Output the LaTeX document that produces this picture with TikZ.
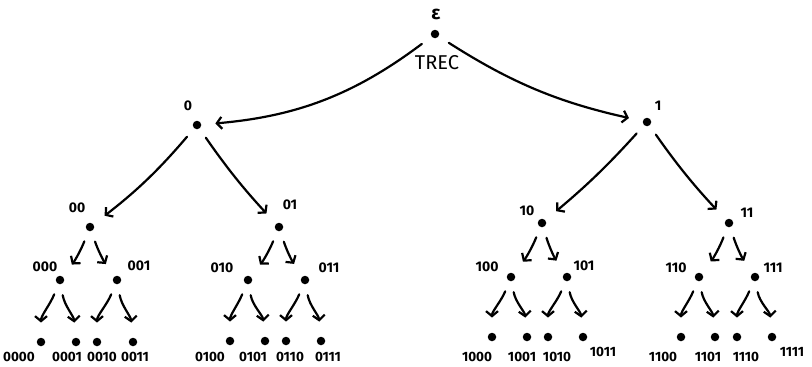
\documentclass[tikz,border=0pt]{standalone}
\usepackage{fontspec}
\setmainfont{Fira Sans}
\usetikzlibrary{arrows.meta}
\begin{document}
\begin{tikzpicture}[x=1pt,y=-1pt,
  dot/.style={circle,fill=black,inner sep=0pt,minimum size=8.5pt},
  lbl/.style={inner sep=0pt,font=\fontsize{14}{14}\selectfont\bfseries},
  leaflbl/.style={inner sep=0pt,font=\fontsize{13.5}{13.5}\selectfont\bfseries},
  edge/.style={line width=2.2pt,line cap=round,
    -{Straight Barb[length=5pt,width=12pt,line width=2.2pt]}},
  etop/.style={edge,shorten <=12pt,shorten >=14pt},
  emid/.style={edge,shorten <=11pt,shorten >=14pt},
  elow/.style={edge,shorten <=11pt,shorten >=15pt},
  eleaf/.style={edge,shorten <=11pt,shorten >=15pt}]
\useasboundingbox (0,0) rectangle (812,367);

% root
\node[dot] (r) at (435,34) {};
\node[inner sep=0pt,font=\fontsize{19}{19}\selectfont\bfseries] (eps) at (436,14) {ε};
\node[inner sep=0pt,font=\fontsize{20}{20}\selectfont] (trec) at (437,63) {TREC};

% level 1
\node[dot] (n0) at (197,125) {};  \node[lbl] (l0) at (188,106) {0};
\node[dot] (n1) at (647,122) {};  \node[lbl] (l1) at (658,106) {1};

% level 2
\node[dot] (n00) at (90,227) {};  \node[lbl] (l00) at (77,208) {00};
\node[dot] (n01) at (279,227) {}; \node[lbl] (l01) at (290,205) {01};
\node[dot] (n10) at (542,223) {}; \node[lbl] (l10) at (527,211) {10};
\node[dot] (n11) at (729,223) {}; \node[lbl] (l11) at (747,213) {11};

% level 3
\node[dot] (n000) at (60,280) {};  \node[lbl] (l000) at (45,267) {000};
\node[dot] (n001) at (117,280) {}; \node[lbl] (l001) at (139,266) {001};
\node[dot] (n010) at (248,280) {}; \node[lbl] (l010) at (222,268) {010};
\node[dot] (n011) at (305,280) {}; \node[lbl] (l011) at (329,268) {011};
\node[dot] (n100) at (511,277) {}; \node[lbl] (l100) at (487,267) {100};
\node[dot] (n101) at (567,277) {}; \node[lbl] (l101) at (584,266) {101};
\node[dot] (n110) at (699,277) {}; \node[lbl] (l110) at (676,268) {110};
\node[dot] (n111) at (755,277) {}; \node[lbl] (l111) at (773,268) {111};

% leaves
\node[dot] (n0000) at (41,342) {};  \node[leaflbl] (l0000) at (19,357) {0000};
\node[dot] (n0001) at (76,342) {};  \node[leaflbl] (l0001) at (67,357) {0001};
\node[dot] (n0010) at (97,342) {};  \node[leaflbl] (l0010) at (102,357) {0010};
\node[dot] (n0011) at (133,342) {}; \node[leaflbl] (l0011) at (135,357) {0011};
\node[dot] (n0100) at (230,341) {}; \node[leaflbl] (l0100) at (210,357) {0100};
\node[dot] (n0101) at (265,341) {}; \node[leaflbl] (l0101) at (253,357) {0101};
\node[dot] (n0110) at (286,341) {}; \node[leaflbl] (l0110) at (290,357) {0110};
\node[dot] (n0111) at (321,341) {}; \node[leaflbl] (l0111) at (328,357) {0111};
\node[dot] (n1000) at (492,337) {}; \node[leaflbl] (l1000) at (477,357) {1000};
\node[dot] (n1001) at (527,337) {}; \node[leaflbl] (l1001) at (522,357) {1001};
\node[dot] (n1010) at (548,337) {}; \node[leaflbl] (l1010) at (557,357) {1010};
\node[dot] (n1011) at (583,337) {}; \node[leaflbl] (l1011) at (603,352) {1011};
\node[dot] (n1100) at (681,337) {}; \node[leaflbl] (l1100) at (663,357) {1100};
\node[dot] (n1101) at (715,337) {}; \node[leaflbl] (l1101) at (708,357) {1101};
\node[dot] (n1110) at (737,337) {}; \node[leaflbl] (l1110) at (746,357) {1110};
\node[dot] (n1111) at (772,337) {}; \node[leaflbl] (l1111) at (792,352) {1111};

% edges: root
\draw[etop] (r) to[bend left=16] (n0);
\draw[etop] (r) to[bend right=10] (n1);
% edges: level 1 -> 2
\draw[emid] (n0) to[bend left=6] (n00);
\draw[emid] (n0) to[bend right=4] (n01);
\draw[emid] (n1) to[bend left=4] (n10);
\draw[emid] (n1) to[bend right=4] (n11);
% edges: level 2 -> 3
\foreach \p/\a/\b in {n00/n000/n001, n01/n010/n011, n10/n100/n101, n11/n110/n111}{
  \draw[elow] (\p) to[bend left=8] (\a);
  \draw[elow] (\p) to[bend right=8] (\b);
}
% edges: level 3 -> leaves, each arriving from straight above
\foreach \p/\a/\b in {n000/n0000/n0001, n001/n0010/n0011, n010/n0100/n0101, n011/n0110/n0111,
                      n100/n1000/n1001, n101/n1010/n1011, n110/n1100/n1101, n111/n1110/n1111}{
  \draw[eleaf] (\p) to[out=-112,in=90] (\a);
  \draw[eleaf] (\p) to[out=-80,in=95] (\b);
}
\end{tikzpicture}
\end{document}
